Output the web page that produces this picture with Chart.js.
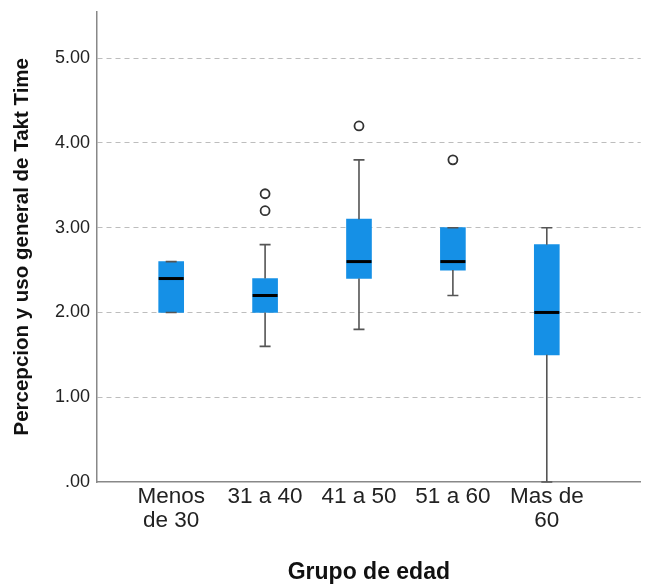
<!DOCTYPE html>
<html>
<head>
<meta charset="utf-8">
<script src="https://cdn.jsdelivr.net/npm/chart.js@4"></script>
<style>
  body { margin: 0; background: #fff; }
  canvas { display: block; }
</style>
</head>
<body>
<canvas id="boxChart" width="647" height="586"></canvas>
<script>
// age groups and box plot stats
const categories = [['Menos', 'de 30'], '31 a 40', '41 a 50', '51 a 60', ['Mas de', '60']];
const q1 = [2.0, 2.0, 2.4, 2.5, 1.5];
const q3 = [2.6, 2.4, 3.1, 3.0, 2.8];
const medians = [2.4, 2.2, 2.6, 2.6, 2.0];
const whiskerLow = [2.0, 1.6, 1.8, 2.2, 0.0];
const whiskerHigh = [2.6, 2.8, 3.8, 3.0, 3.0];
const outliers = [[], [3.2, 3.4], [4.2], [3.8], []];
const yTicks = [0, 1, 2, 3, 4, 5];

const boxData = categories.map((c, i) => ({ x: i, y: [q1[i], q3[i]] }));
const outlierData = [];
outliers.forEach((list, i) => list.forEach(v => outlierData.push({ x: i, y: v })));

// whiskers, caps and medians drawn with the chart's own scales
const boxExtras = {
    id: 'boxExtras',
    afterDatasetsDraw(chart) {
        const ctx = chart.ctx;
        const xs = chart.scales.x, ys = chart.scales.y;
        ctx.save();
        categories.forEach((c, i) => {
            const x = xs.getPixelForValue(i);
            ctx.strokeStyle = '#555';
            ctx.lineWidth = 1.6;
            ctx.beginPath();
            ctx.moveTo(x, ys.getPixelForValue(q3[i]));
            ctx.lineTo(x, ys.getPixelForValue(whiskerHigh[i]));
            ctx.moveTo(x, ys.getPixelForValue(q1[i]));
            ctx.lineTo(x, ys.getPixelForValue(whiskerLow[i]));
            [whiskerHigh[i], whiskerLow[i]].forEach(v => {
                const y = ys.getPixelForValue(v);
                ctx.moveTo(x - 5.5, y);
                ctx.lineTo(x + 5.5, y);
            });
            ctx.stroke();
            // median
            ctx.strokeStyle = '#000';
            ctx.lineWidth = 3;
            ctx.beginPath();
            const ym = ys.getPixelForValue(medians[i]);
            ctx.moveTo(x - 12.5, ym);
            ctx.lineTo(x + 12.5, ym);
            ctx.stroke();
        });
        ctx.restore();
    }
};

const ctx = document.getElementById('boxChart').getContext('2d');
new Chart(ctx, {
    type: 'bar',
    data: {
        datasets: [{
            type: 'bar',
            data: boxData,
            backgroundColor: '#1590e6',
            borderWidth: 0,
            barThickness: 25,
            order: 2
        }, {
            type: 'scatter',
            data: outlierData,
            pointStyle: 'circle',
            pointRadius: 4.5,
            pointBorderWidth: 1.8,
            borderColor: '#333',
            backgroundColor: 'rgba(0,0,0,0)',
            order: 1
        }]
    },
    options: {
        responsive: false,
        animation: false,
        layout: { padding: { top: 10, right: 2, left: 0, bottom: 0 } },
        plugins: {
            legend: { display: false },
            tooltip: { enabled: false }
        },
        scales: {
            x: {
                type: 'linear',
                offset: false,
                min: -0.79,
                max: 5.0,
                afterFit: s => { s.height = 104; },
                afterBuildTicks: s => { s.ticks = categories.map((c, i) => ({ value: i })); },
                ticks: {
                    callback: v => categories[v],
                    color: '#222',
                    padding: 3,
                    maxRotation: 0,
                    font: { family: 'Liberation Sans, Arial, sans-serif', size: 22.5, lineHeight: 1.05 }
                },
                grid: { display: false, drawTicks: false },
                border: { display: true, color: '#888', width: 1.5 },
                title: {
                    display: true,
                    text: 'Grupo de edad',
                    color: '#111',
                    padding: { top: 0, bottom: 0 },
                    font: { family: 'Liberation Sans, Arial, sans-serif', size: 23, weight: 'bold' }
                }
            },
            y: {
                min: 0,
                max: 5.55,
                afterFit: s => { s.width = 97; },
                afterBuildTicks: s => { s.ticks = yTicks.map(v => ({ value: v })); },
                ticks: {
                    callback: v => v === 0 ? '.00' : v.toFixed(2),
                    color: '#222',
                    padding: 7,
                    font: { family: 'Liberation Sans, Arial, sans-serif', size: 18, lineHeight: 0.5 }
                },
                grid: {
                    color: ctx => ctx.tick && ctx.tick.value === 0 ? 'rgba(0,0,0,0)' : '#bdbdbd',
                    lineWidth: 1,
                    drawTicks: false
                },
                border: { display: true, color: '#888', width: 1.5, dash: [5, 4] },
                title: {
                    display: true,
                    text: 'Percepcion y uso general de Takt Time',
                    color: '#111',
                    padding: { top: 10, bottom: 0 },
                    font: { family: 'Liberation Sans, Arial, sans-serif', size: 20.5, weight: 'bold' }
                }
            }
        }
    },
    plugins: [boxExtras]
});
</script>
</body>
</html>
